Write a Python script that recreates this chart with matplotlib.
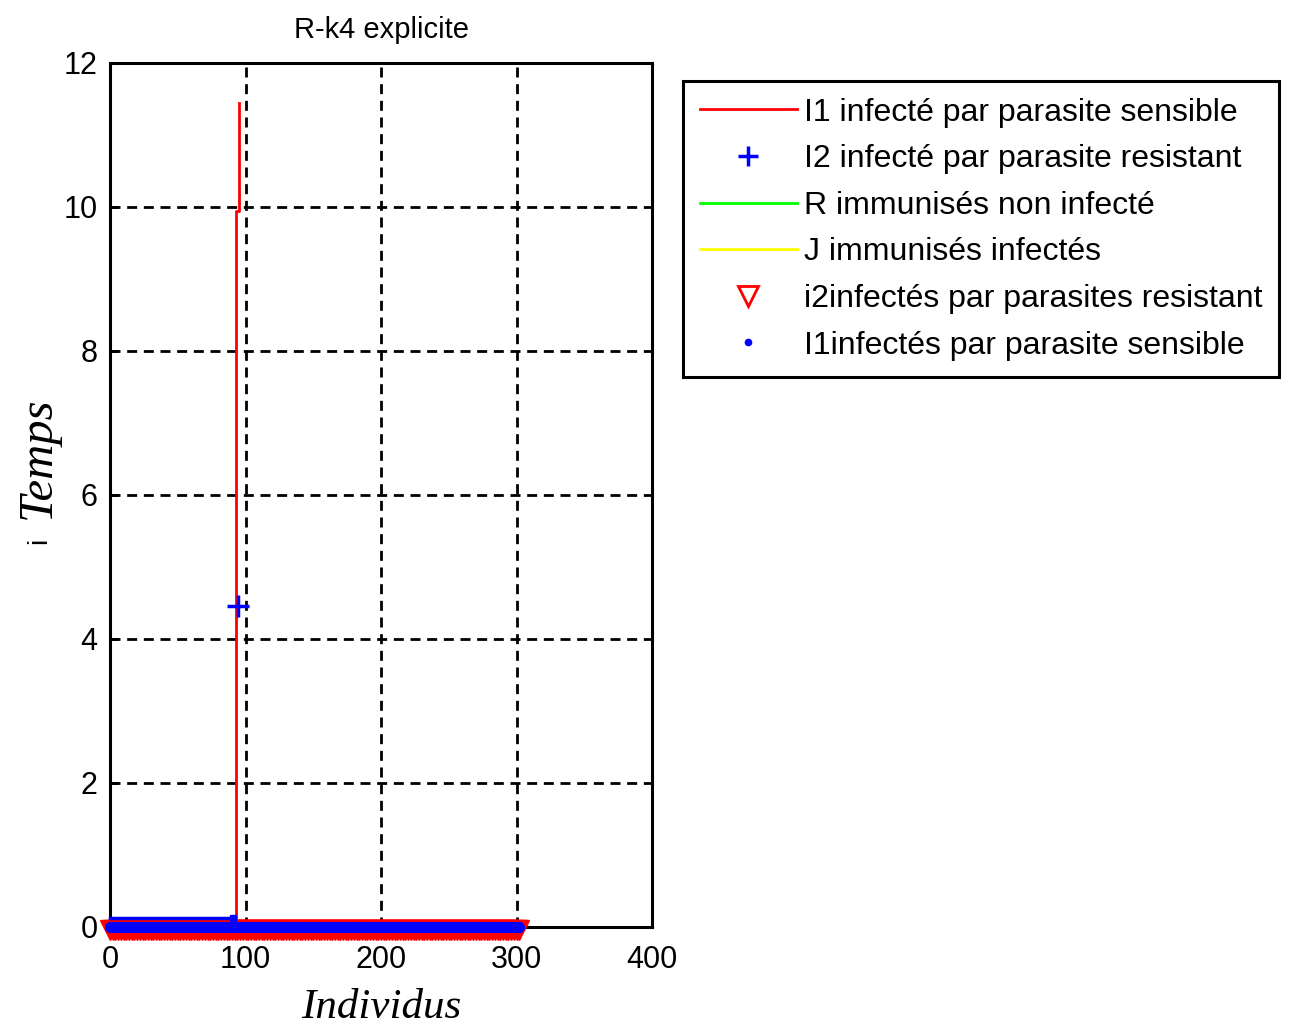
import numpy as np
import matplotlib
matplotlib.use('Agg')
import matplotlib.pyplot as plt

plt.rcParams['font.family'] = ['Liberation Sans', 'DejaVu Sans']

# I1 : individus (x) en fonction du temps (y)
I1_x = [93.0, 93.0, 95.4, 95.4]
I1_t = [0.0, 9.95, 9.95, 11.45]

# I2 : point isolé et segment bas
I2_x = [94.5]
I2_t = [4.46]
I2_bas_x = [0, 91]
I2_bas_t = [0.12, 0.12]

# R et J (nuls, cachés sous les marqueurs)
R_x = [0, 300]
R_t = [0, 0]
J_x = [0, 300]
J_t = [0, 0]

# i2 / I1 marqueurs le long de l'axe (indices des individus)
idx = list(range(0, 304, 2))
i2_val = [-0.04] * len(idx)
I1_val = [0] * len(idx)

fig = plt.figure(figsize=(12.91, 10.32), dpi=100)
ax = fig.add_axes([110/1291, 1 - 927/1032, 542/1291, 864/1032])

lR, = ax.plot(R_x, R_t, color='#00ff00', lw=2, zorder=1)
lJ, = ax.plot(J_x, J_t, color='#ffff00', lw=2, zorder=1)
l1, = ax.plot(I1_x, I1_t, color='red', lw=2, zorder=3)
l2, = ax.plot(I2_x, I2_t, 'b+', ms=16, mew=2.5, zorder=4)
ax.plot(I2_bas_x, I2_bas_t, color='blue', lw=2.5, zorder=7, clip_on=False)
ax.plot([I2_bas_x[-1]], [I2_bas_t[-1]], 's', color='blue', ms=5, zorder=7)
ax.plot(idx, i2_val, 'v', color='red', mfc='red', ms=15, ls='none',
        clip_on=False, zorder=5)
ax.plot(idx, I1_val, 'o', color='blue', ms=7, ls='none', clip_on=False, zorder=6)

ax.set_xlim(0, 400)
ax.set_ylim(0, 12)
ax.set_xticks([0, 100, 200, 300, 400])
ax.set_yticks([0, 2, 4, 6, 8, 10, 12])
ax.grid(True, color='black', ls=(0, (3.6, 2.4)), lw=2)
ax.tick_params(direction='in', length=6, width=2, labelsize=22, pad=9)
ax.tick_params(axis='x', pad=13)
for s in ax.spines.values():
    s.set_linewidth(2.2)

ax.set_title('R-k4 explicite', fontsize=21, pad=18)
ax.set_xlabel('Individus', fontsize=31, family='Liberation Serif', style='italic', labelpad=10)
fig.text(0.029, 1 - 458/1032, 'Temps', rotation=90, fontsize=35, family='Liberation Serif',
         style='italic', ha='center', va='center')
fig.text(0.030, 1 - 541/1032, 'i', rotation=90, fontsize=20, ha='center', va='center')

# légende : triangle creux, petit point
h5 = plt.Line2D([], [], marker='v', color='red', mfc='none', mew=2, ms=14, ls='none')
h6 = plt.Line2D([], [], marker='.', color='blue', ms=9, ls='none')
h2 = plt.Line2D([], [], marker='+', color='blue', ms=14, mew=2.5, ls='none')
handles = [l1, h2, lR, lJ, h5, h6]
labels = ['I1 infecté par parasite sensible', 'I2 infecté par parasite resistant',
          'R immunisés non infecté', 'J immunisés infectés',
          'i2infectés par parasites resistant', 'I1infectés par parasite sensible']
leg = fig.legend(handles, labels, loc='upper left', bbox_to_anchor=(683/1291, 1 - 81/1032),
                 borderaxespad=0, fontsize=23, frameon=True, fancybox=False,
                 edgecolor='black', framealpha=1, handlelength=3.05, handletextpad=0.22,
                 labelspacing=0.52, borderpad=0.52)
leg.get_frame().set_linewidth(2.2)

fig.savefig('out.png', dpi=100)
